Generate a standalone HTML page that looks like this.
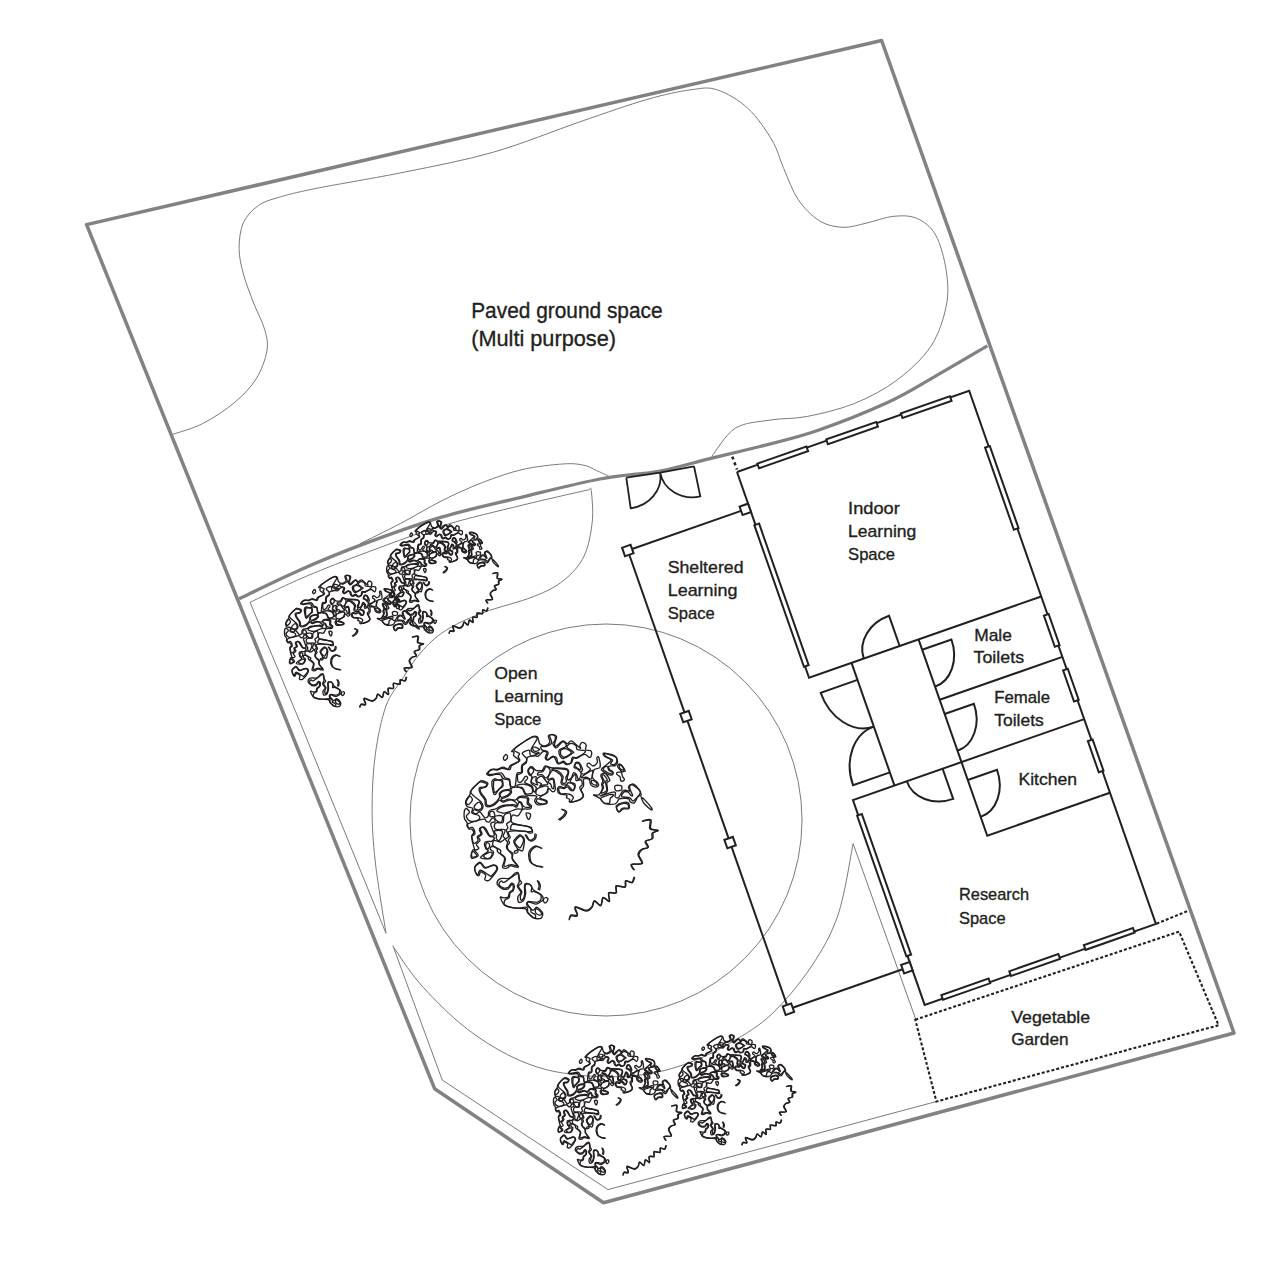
<!DOCTYPE html><html><head><meta charset="utf-8"><style>html,body{margin:0;padding:0;background:#fff;}svg{display:block;}text{font-family:"Liberation Sans",sans-serif;fill:#231f20;stroke:#231f20;stroke-width:0.35px;}</style></head><body>
<svg width="1276" height="1264" viewBox="0 0 1276 1264">
<path d="M172.8,434.3 C177.8,432.5 192.4,428.9 202.7,423.6 C213.0,418.3 225.9,409.8 234.8,402.3 C243.7,394.8 250.8,387.4 256.2,378.8 C261.5,370.2 265.5,359.2 266.9,351.0 C268.3,342.8 266.8,337.4 264.7,329.6 C262.6,321.8 257.6,313.3 254.0,304.0 C250.4,294.7 245.9,283.3 243.4,274.0 C240.9,264.7 239.1,256.9 239.1,248.4 C239.1,239.8 240.2,229.8 243.4,222.7 C246.6,215.6 252.2,209.9 258.3,205.6 C264.4,201.3 269.8,200.0 279.7,197.1 C289.6,194.2 296.8,192.3 317.8,188.1 C338.8,183.9 376.2,177.9 405.5,171.9 C434.8,165.9 464.0,160.6 493.3,152.2 C522.6,143.8 555.5,130.2 581.1,121.4 C606.7,112.6 628.6,104.8 646.9,99.5 C665.2,94.2 679.1,91.4 690.8,89.8 C702.5,88.2 707.6,86.7 717.1,89.8 C726.6,92.9 738.8,99.9 747.9,108.3 C757.0,116.7 765.9,130.0 771.9,140.0 C777.9,150.0 779.4,158.6 783.7,168.5 C788.1,178.4 792.1,190.6 798.0,199.3 C803.9,208.0 811.8,216.0 819.3,220.7 C826.8,225.4 835.1,226.9 843.0,227.3 C850.9,227.7 858.5,224.8 866.8,223.0 C875.1,221.2 884.6,217.2 892.9,216.4 C901.2,215.6 909.5,215.2 916.6,218.3 C923.7,221.4 930.7,226.2 935.6,234.9 C940.5,243.6 944.4,258.6 946.2,270.5 C948.0,282.4 948.8,293.5 946.2,306.1 C943.6,318.8 938.9,334.1 930.8,346.4 C922.7,358.6 910.2,370.1 897.6,379.6 C885.0,389.1 869.9,397.2 854.9,403.3 C839.9,409.4 821.5,413.6 807.4,416.4 C793.3,419.2 782.5,418.0 770.5,420.0 C758.5,422.0 745.1,422.1 735.3,428.2 C725.5,434.3 715.7,451.7 711.8,456.4" fill="none" stroke="#7a7b7e" stroke-width="1"/>
<path d="M360.0,543.7 C366.8,540.3 387.1,530.5 400.7,523.4 C414.3,516.3 427.9,507.7 441.5,500.9 C455.1,494.1 468.6,487.9 482.2,482.6 C495.8,477.4 509.4,472.5 523.0,469.4 C536.6,466.3 553.5,464.6 563.7,463.9 C573.9,463.2 578.7,464.2 584.1,465.3 C589.5,466.4 592.2,468.6 596.3,470.4 C600.4,472.2 606.5,475.2 608.6,476.1" fill="none" stroke="#7a7b7e" stroke-width="1"/>
<path d="M386.0,933.3 C384.2,921.4 377.6,882.9 375.3,862.0 C373.0,841.1 372.1,826.1 372.1,808.2 C372.1,790.3 373.0,771.4 375.3,754.4 C377.6,737.4 381.5,718.5 386.0,706.0 C390.5,693.5 396.4,688.2 402.2,679.2 C408.0,670.2 413.8,660.4 421.0,652.3 C428.2,644.2 435.0,637.3 445.2,630.8 C455.4,624.2 467.5,618.7 482.2,613.0 C496.9,607.3 519.6,602.1 533.2,596.7 C546.8,591.3 555.2,587.2 563.7,580.4 C572.2,573.6 579.3,565.9 584.1,556.0 C588.9,546.1 591.1,532.2 592.3,521.3 C593.5,510.4 591.8,496.0 591.3,490.7 C590.8,485.4 589.6,489.9 589.2,489.7" fill="none" stroke="#7a7b7e" stroke-width="1"/>
<path d="M589.2,489.7 C578.2,492.2 547.6,498.9 523.0,505.0 C498.4,511.1 468.7,517.7 441.5,526.0 C414.3,534.3 383.6,546.2 360.0,555.0 C336.4,563.8 318.3,571.1 300.0,579.0 C281.7,586.9 258.3,598.4 250.0,602.3" fill="none" stroke="#7a7b7e" stroke-width="1"/>
<path d="M250,602.3 L300,722.2 L386,933.3" fill="none" stroke="#7a7b7e" stroke-width="1"/>
<path d="M392.8,945.4 L442.2,1080 L608,1189.6 L936.4,1101.5" fill="none" stroke="#7a7b7e" stroke-width="1"/>
<path d="M393.7,947.4 C397.9,953.3 408.4,970.3 419.2,982.7 C430.0,995.1 445.3,1010.8 458.4,1021.9 C471.5,1033.0 484.6,1041.8 497.6,1049.3 C510.7,1056.8 523.7,1062.7 536.7,1066.9 C549.8,1071.2 562.8,1073.2 575.9,1074.8 C589.0,1076.4 602.0,1077.0 615.1,1076.7 C628.2,1076.4 641.2,1075.4 654.3,1072.8 C667.4,1070.2 680.4,1066.3 693.5,1061.1 C706.6,1055.9 719.7,1049.3 732.7,1041.5 C745.8,1033.7 758.8,1026.4 771.8,1014.0 C784.8,1001.6 800.0,983.5 811.0,967.0 C822.0,950.5 831.0,935.6 838.0,915.0 C845.0,894.4 850.6,855.5 853.1,843.6" fill="none" stroke="#7a7b7e" stroke-width="1"/>
<path d="M853.1,843.6 L915.7,1019.2" fill="none" stroke="#7a7b7e" stroke-width="1"/>
<circle cx="606" cy="820" r="196" fill="none" stroke="#7a7b7e" stroke-width="1"/>
<path d="M86.6,224.6 L881.6,40.5 L1234,1033 L603.5,1202.8 L434.6,1088.7 Z" fill="none" stroke="#808285" stroke-width="3.5" stroke-linejoin="round"/>
<path d="M239.2,598.7 C249.3,593.9 279.9,578.9 300.0,570.0 C320.1,561.1 336.4,554.2 360.0,545.4 C383.6,536.6 414.3,525.3 441.5,517.2 C468.7,509.1 496.6,503.3 523.0,496.9 C549.4,490.5 577.2,483.3 600.0,479.0 C622.8,474.7 641.8,474.4 660.0,471.0 C678.2,467.6 692.3,462.9 709.0,458.8 C725.7,454.7 741.9,451.2 760.0,446.5 C778.1,441.8 796.2,437.9 817.6,430.5 C839.0,423.1 868.5,411.3 888.1,402.3 C907.7,393.3 918.6,385.8 935.1,376.4 C951.6,367.0 978.6,351.0 987.3,345.9" fill="none" stroke="#808285" stroke-width="3.3"/>
<path d="M915.3,1019.7 L1179.1,931.6 L1218.6,1025.3 L936.4,1101.5 Z M1156.5,923.7 L1187.6,911" fill="none" stroke="#231f20" stroke-width="2.1" stroke-dasharray="3,2"/>
<g transform="translate(627.8,550.5) rotate(-19.30)" fill="none" stroke="#231f20" stroke-width="2">
<path d="M0,0 L120,0"/>
<path d="M0,4.5 L0,172"/>
<path d="M0,180 L0,305"/>
<path d="M0,314 L0,482"/>
<path d="M4.5,486 L121,486"/>
<path d="M129,-38 L375,-38 L375,527 L130,527 L130,310 L375,310"/>
<path d="M129,-38 L129,180 L375,180"/>
<path d="M174,180 L174,310"/>
<path d="M245,180 L245,388 L365,388 L365,388"/>
<path d="M245,244 L375,244"/>
<path d="M365,388 L375,388"/>
<rect x="-4.5" y="-4.5" width="9" height="9" fill="#fff"/>
<rect x="120.0" y="-4.5" width="9" height="9" fill="#fff"/>
<rect x="-4.5" y="171.5" width="9" height="9" fill="#fff"/>
<rect x="-4.5" y="305.0" width="9" height="9" fill="#fff"/>
<rect x="-4.5" y="481.5" width="9" height="9" fill="#fff"/>
<rect x="121.0" y="481.5" width="9" height="9" fill="#fff"/>
<rect x="151.0" y="-39.2" width="52.0" height="5" fill="#fff"/>
<rect x="224.0" y="-39.2" width="53.0" height="5" fill="#fff"/>
<rect x="303.0" y="-39.2" width="52.0" height="5" fill="#fff"/>
<rect x="149.0" y="523.2" width="50.0" height="5" fill="#fff"/>
<rect x="221.0" y="523.2" width="52.0" height="5" fill="#fff"/>
<rect x="300.0" y="523.2" width="52.0" height="5" fill="#fff"/>
<rect x="371.2" y="21.0" width="5" height="87.0" fill="#fff"/>
<rect x="371.2" y="199.0" width="5" height="33.0" fill="#fff"/>
<rect x="371.2" y="257.0" width="5" height="33.0" fill="#fff"/>
<rect x="371.2" y="332.0" width="5" height="33.0" fill="#fff"/>
<rect x="127.8" y="18.0" width="5" height="150.0" fill="#fff"/>
<rect x="128.8" y="326.0" width="5" height="149.0" fill="#fff"/>
<path d="M225.0,180.0 L225.0,148.0 A38.0,32.0 0 0 0 187.0,180.0"/>
<path d="M245.0,191.0 L276.0,191.0 A31.0,39.0 0 0 1 245.0,230.0"/>
<path d="M245.0,259.0 L276.0,259.0 A31.0,39.0 0 0 1 245.0,298.0"/>
<path d="M174.0,198.0 L135.0,198.0 A39.0,49.5 0 0 0 174.0,247.5"/>
<path d="M174.0,296.0 L135.0,296.0 A39.0,48.5 0 0 1 174.0,247.5"/>
<path d="M225.0,310.0 L225.0,342.0 A38.0,32.0 0 0 1 187.0,310.0"/>
<path d="M245.0,329.0 L276.0,329.0 A31.0,39.0 0 0 1 245.0,368.0"/>
</g>
<path d="M626.3,477.6 L630.7,508.3 A33.9,30.8 -8 0 0 660.2,472.6 M694,466.3 L700.3,496.4 A33.8,30.6 -10 0 1 660.2,472.6 M626.3,477.6 L660.2,472.6 L694,466.3" fill="none" stroke="#231f20" stroke-width="1.8"/>
<path d="M732.3,456.6 L737,469.5" stroke="#231f20" stroke-width="2.6" stroke-dasharray="3,3.2" fill="none"/>
<defs><g id="tree" fill="none"><path d="M52 -337C56 -338 61 -340 64 -345C67 -351 66 -366 71 -370C76 -374 83 -366 94 -370C104 -375 129 -391 134 -397C139 -403 131 -404 124 -406C117 -408 100 -406 94 -410C88 -414 94 -424 89 -430C83 -435 69 -443 61 -441C54 -440 42 -429 44 -422C45 -415 67 -405 72 -400C77 -395 81 -398 73 -392C65 -386 37 -366 26 -364C16 -361 13 -371 9 -377C6 -383 3 -394 3 -400C3 -405 5 -408 11 -412C16 -416 34 -420 38 -425C42 -430 39 -438 36 -442C33 -446 28 -453 21 -449C15 -446 2 -427 -4 -422C-10 -417 -10 -417 -14 -420C-18 -423 -26 -434 -27 -440C-27 -445 -19 -448 -17 -455C-15 -461 -13 -472 -15 -477C-16 -482 -22 -484 -26 -485C-31 -486 -42 -489 -43 -482C-44 -476 -30 -454 -33 -445C-36 -435 -50 -429 -59 -426C-68 -422 -82 -428 -85 -425C-89 -422 -85 -412 -79 -407C-73 -403 -54 -404 -51 -397C-47 -390 -59 -371 -59 -364C-59 -358 -53 -358 -49 -360C-44 -362 -36 -372 -31 -374C-26 -377 -23 -376 -19 -374C-15 -373 -12 -373 -8 -367C-5 -361 -5 -343 1 -341C7 -338 20 -351 26 -351C33 -350 37 -340 41 -337C46 -335 48 -336 52 -337"/><path d="M-224 -219C-219 -220 -217 -215 -213 -227C-210 -238 -210 -276 -205 -287C-200 -298 -188 -286 -184 -293C-180 -300 -185 -320 -181 -329C-176 -339 -163 -342 -159 -349C-156 -355 -156 -361 -159 -367C-162 -373 -176 -382 -178 -387C-180 -392 -178 -394 -173 -397C-167 -400 -150 -409 -144 -406C-138 -402 -144 -380 -137 -377C-129 -374 -104 -387 -97 -390C-91 -392 -96 -394 -99 -395C-102 -395 -108 -389 -114 -391C-120 -394 -137 -398 -135 -410C-134 -421 -111 -449 -107 -460C-102 -470 -104 -471 -109 -473C-114 -475 -119 -480 -137 -470C-156 -460 -209 -425 -218 -412C-227 -399 -196 -396 -193 -390C-190 -383 -199 -381 -199 -375C-199 -368 -187 -360 -192 -352C-198 -344 -223 -334 -232 -327C-240 -319 -234 -309 -242 -307C-249 -305 -267 -314 -277 -314C-287 -314 -293 -307 -302 -305C-310 -304 -319 -310 -327 -307C-335 -304 -347 -294 -349 -289C-351 -285 -348 -282 -337 -282C-326 -282 -296 -292 -284 -290C-272 -287 -272 -272 -265 -267C-258 -261 -246 -264 -242 -257C-237 -250 -242 -230 -239 -224C-236 -218 -228 -219 -224 -219"/><path d="M280 -334C285 -337 292 -348 292 -354C293 -361 293 -369 282 -375C272 -380 237 -390 229 -390C222 -390 230 -380 237 -375C243 -369 266 -363 270 -357C274 -351 259 -341 261 -337C263 -333 274 -332 280 -334"/><path d="M111 -307C115 -309 109 -329 106 -334C103 -340 95 -341 91 -340C88 -338 81 -330 84 -324C87 -319 108 -305 111 -307"/><path d="M327 -304C329 -306 322 -320 318 -324C315 -329 306 -332 304 -330C303 -328 304 -316 308 -312C311 -308 325 -302 327 -304"/><path d="M265 -284C272 -283 270 -291 268 -294C265 -298 256 -300 252 -304C248 -309 248 -321 244 -323C240 -325 230 -320 228 -317C225 -314 221 -310 227 -304C233 -299 258 -286 265 -284"/><path d="M-57 -267C-53 -270 -47 -277 -44 -283C-41 -289 -40 -299 -40 -304C-41 -310 -45 -314 -48 -317C-52 -320 -57 -325 -61 -322C-66 -318 -70 -303 -76 -298C-83 -293 -94 -295 -98 -292C-103 -289 -105 -281 -102 -279C-99 -278 -87 -284 -81 -281C-75 -279 -70 -269 -66 -266C-62 -264 -61 -264 -57 -267"/><path d="M-131 -284C-128 -287 -121 -299 -122 -304C-123 -310 -132 -318 -137 -318C-141 -317 -147 -307 -148 -302C-149 -297 -144 -289 -142 -286C-139 -283 -135 -281 -131 -284"/><path d="M32 -237C36 -237 40 -242 41 -247C42 -252 37 -260 38 -267C40 -274 48 -283 49 -289C50 -295 49 -299 46 -302C44 -306 46 -308 34 -309C22 -311 -18 -313 -27 -312C-37 -311 -29 -306 -24 -304C-19 -302 -7 -304 1 -299C9 -294 21 -281 24 -272C27 -263 18 -250 19 -244C21 -238 28 -236 32 -237"/><path d="M164 -259C170 -263 171 -282 172 -289C172 -297 178 -306 169 -303C160 -300 127 -278 119 -272C111 -265 118 -266 122 -265C125 -265 132 -269 139 -268C146 -267 159 -256 164 -259"/><path d="M72 -142C79 -143 96 -148 104 -152C111 -155 116 -160 120 -164C123 -168 126 -168 124 -177C122 -185 108 -205 107 -214C106 -223 118 -223 119 -229C121 -235 118 -246 116 -251C115 -255 116 -255 111 -255C107 -256 93 -248 89 -251C85 -255 90 -269 88 -274C87 -279 86 -287 81 -282C77 -278 63 -256 60 -249C57 -242 60 -244 64 -241C68 -238 82 -238 84 -232C87 -226 82 -209 79 -204C76 -198 69 -197 64 -200C58 -202 52 -216 46 -218C41 -220 35 -211 29 -210C23 -209 13 -214 9 -213C4 -212 1 -209 2 -204C3 -199 5 -188 13 -184C21 -181 41 -186 51 -182C62 -179 74 -171 75 -164C77 -157 63 -145 62 -142C62 -138 66 -140 72 -142"/><path d="M224 -189C229 -191 240 -192 242 -202C244 -211 235 -235 235 -244C236 -253 246 -248 244 -254C243 -260 231 -277 227 -280C222 -284 217 -280 218 -274C218 -269 228 -254 229 -247C230 -240 222 -237 221 -232C220 -226 227 -221 225 -214C224 -207 213 -193 213 -189C213 -185 220 -187 224 -189"/><path d="M-103 -229C-100 -230 -110 -243 -111 -249C-112 -256 -108 -266 -109 -269C-111 -273 -118 -271 -122 -269C-125 -267 -130 -261 -132 -257C-134 -252 -137 -246 -132 -242C-127 -237 -107 -228 -103 -229"/><path d="M-22 -212C-21 -218 -21 -242 -23 -249C-24 -257 -29 -258 -34 -257C-38 -257 -50 -249 -50 -244C-51 -240 -40 -237 -37 -232C-34 -227 -34 -218 -31 -214C-29 -211 -24 -206 -22 -212"/><path d="M-311 -192C-304 -196 -284 -215 -279 -225C-275 -234 -278 -245 -284 -250C-290 -254 -308 -253 -314 -252C-321 -251 -320 -253 -321 -244C-322 -235 -322 -208 -320 -199C-318 -190 -317 -187 -311 -192"/><path d="M189 -227C193 -226 193 -229 193 -232C193 -234 193 -238 189 -242C185 -245 170 -254 167 -253C163 -252 165 -239 169 -235C173 -230 185 -227 189 -227"/><path d="M-358 -61C-355 -63 -350 -64 -348 -69C-346 -73 -348 -84 -346 -89C-344 -94 -342 -98 -337 -100C-332 -103 -324 -100 -314 -104C-305 -107 -297 -117 -282 -121C-267 -125 -236 -127 -224 -128C-212 -128 -212 -122 -209 -123C-206 -124 -201 -129 -206 -134C-210 -139 -223 -151 -234 -152C-246 -153 -265 -141 -274 -140C-284 -140 -284 -153 -292 -150C-300 -147 -311 -129 -322 -124C-333 -119 -352 -114 -359 -119C-367 -124 -361 -141 -365 -152C-370 -162 -382 -175 -387 -184C-392 -194 -394 -204 -394 -209C-394 -215 -392 -215 -387 -216C-382 -218 -370 -216 -365 -219C-359 -222 -352 -230 -356 -234C-360 -238 -378 -245 -387 -244C-396 -243 -400 -238 -408 -229C-416 -220 -438 -204 -434 -189C-430 -175 -394 -154 -384 -142C-374 -129 -373 -124 -374 -116C-375 -109 -382 -97 -390 -95C-397 -92 -411 -103 -417 -102C-423 -101 -426 -93 -425 -89C-423 -85 -413 -80 -407 -81C-401 -81 -396 -93 -390 -90C-383 -87 -372 -67 -367 -62C-362 -57 -361 -60 -358 -61"/><path d="M-136 -184C-130 -185 -130 -186 -129 -189C-128 -192 -126 -199 -128 -204C-129 -210 -130 -217 -137 -221C-143 -226 -155 -231 -167 -232C-178 -233 -198 -229 -204 -227C-209 -224 -204 -221 -199 -218C-195 -216 -183 -218 -177 -213C-170 -207 -168 -189 -162 -184C-155 -179 -141 -183 -136 -184"/><path d="M377 -149C384 -155 405 -177 408 -187C412 -196 406 -199 400 -206C393 -213 375 -227 367 -229C360 -231 354 -225 355 -217C355 -208 368 -183 370 -176C371 -169 365 -172 362 -175C359 -177 354 -187 349 -191C345 -194 341 -195 337 -195C333 -195 328 -194 324 -189C321 -185 311 -174 316 -169C321 -165 346 -166 354 -163C363 -160 363 -153 367 -150C371 -148 370 -143 377 -149"/><path d="M-83 -174C-76 -177 -63 -182 -58 -189C-53 -196 -51 -209 -50 -214C-49 -220 -51 -220 -54 -221C-57 -222 -61 -225 -69 -223C-77 -221 -97 -215 -104 -209C-111 -202 -112 -190 -111 -184C-109 -178 -101 -176 -96 -175C-92 -173 -89 -172 -83 -174"/><path d="M-271 -167C-263 -169 -249 -176 -244 -182C-238 -187 -236 -195 -239 -198C-243 -201 -256 -201 -264 -199C-272 -198 -283 -192 -286 -187C-290 -182 -289 -172 -287 -169C-284 -165 -278 -164 -271 -167"/><path d="M248 -134C252 -134 254 -132 256 -137C258 -141 257 -154 259 -160C262 -165 270 -167 272 -171C274 -174 278 -180 272 -180C266 -180 247 -177 237 -173C227 -170 212 -165 211 -159C210 -153 223 -140 229 -136C235 -132 243 -134 248 -134"/><path d="M-445 -129C-440 -132 -428 -145 -427 -152C-426 -158 -435 -172 -440 -171C-445 -169 -455 -150 -458 -144C-461 -138 -459 -136 -457 -134C-455 -131 -450 -126 -445 -129"/><path d="M-142 -114C-137 -115 -139 -119 -141 -122C-143 -124 -152 -126 -154 -132C-156 -137 -152 -149 -153 -154C-153 -159 -152 -160 -158 -162C-164 -163 -180 -166 -187 -165C-194 -165 -197 -162 -200 -159C-202 -156 -204 -151 -202 -148C-199 -145 -189 -144 -184 -139C-179 -134 -179 -122 -172 -118C-165 -114 -147 -113 -142 -114"/><path d="M-88 -132C-81 -130 -69 -131 -64 -134C-59 -136 -54 -140 -60 -144C-66 -148 -91 -155 -99 -157C-107 -159 -105 -157 -106 -154C-108 -152 -109 -144 -106 -140C-103 -136 -95 -133 -88 -132"/><path d="M306 -94C309 -96 312 -106 319 -109C326 -112 344 -108 348 -111C353 -115 350 -125 346 -129C342 -133 334 -136 324 -134C315 -132 296 -123 292 -117C287 -110 295 -99 297 -95C299 -91 302 -92 306 -94"/><path d="M-209 187C-204 187 -203 187 -206 182C-209 176 -224 161 -228 152C-232 142 -227 135 -231 127C-236 118 -249 108 -254 101C-258 95 -258 92 -257 86C-257 81 -251 73 -252 66C-253 60 -263 54 -262 49C-262 44 -248 44 -247 36C-247 29 -257 11 -257 4C-258 -4 -251 -3 -250 -9C-250 -14 -259 -23 -256 -29C-254 -35 -241 -38 -237 -44C-234 -49 -234 -54 -235 -61C-236 -68 -236 -84 -242 -85C-247 -87 -264 -80 -269 -72C-275 -64 -268 -43 -275 -36C-282 -30 -302 -38 -309 -34C-317 -31 -318 -19 -318 -14C-317 -8 -316 -3 -307 -0C-298 3 -270 -4 -265 1C-259 7 -274 26 -274 34C-274 41 -263 41 -265 46C-268 51 -278 62 -287 64C-295 65 -310 55 -317 56C-324 58 -326 69 -327 74C-327 79 -326 81 -320 86C-313 92 -292 100 -287 106C-281 111 -291 115 -287 122C-283 128 -266 136 -263 147C-260 158 -274 182 -269 188C-265 193 -244 180 -234 180C-224 180 -213 186 -209 187"/><path d="M-412 69C-408 67 -401 62 -399 56C-397 51 -404 41 -402 36C-400 30 -386 30 -385 24C-383 18 -392 7 -392 1C-392 -5 -389 -10 -384 -11C-379 -13 -369 -13 -362 -6C-355 0 -349 23 -342 29C-335 35 -319 38 -318 29C-317 19 -336 -17 -336 -29C-335 -40 -317 -35 -314 -40C-312 -44 -317 -54 -319 -57C-322 -60 -328 -59 -331 -56C-335 -53 -338 -42 -342 -40C-346 -37 -352 -38 -357 -41C-362 -43 -357 -56 -372 -53C-387 -51 -438 -35 -450 -28C-462 -20 -448 -11 -445 -8C-441 -5 -433 -12 -430 -12C-426 -12 -425 -12 -422 -6C-419 -1 -413 15 -414 21C-415 28 -426 30 -429 34C-431 37 -431 36 -429 41C-428 47 -425 64 -422 69C-419 73 -416 71 -412 69"/><path d="M-136 11C-121 9 -132 -4 -139 -9C-146 -14 -162 -17 -177 -20C-191 -22 -217 -28 -227 -26C-237 -24 -236 -13 -236 -9C-236 -4 -246 -1 -229 2C-213 5 -151 13 -136 11"/><path d="M-187 91C-183 86 -172 63 -172 54C-172 44 -182 32 -189 34C-196 36 -214 55 -216 64C-217 73 -204 84 -199 89C-194 94 -192 97 -187 91"/><path d="M-348 99C-345 96 -341 84 -341 79C-341 74 -347 69 -349 68C-352 67 -356 69 -358 71C-359 74 -361 77 -361 81C-361 85 -359 93 -357 96C-355 99 -351 102 -348 99"/><path d="M-411 139C-407 137 -404 133 -407 129C-410 125 -423 111 -427 113C-431 115 -432 136 -430 140C-427 144 -414 141 -411 139"/><path d="M-341 147C-337 144 -331 137 -330 132C-328 126 -327 117 -332 116C-337 115 -353 121 -359 125C-366 128 -371 133 -371 137C-370 140 -362 146 -357 148C-352 150 -346 149 -341 147"/><path d="M-331 237C-325 231 -309 213 -306 204C-303 196 -308 189 -312 186C-316 183 -323 184 -332 186C-341 188 -356 200 -365 198C-373 197 -377 181 -382 177C-387 173 -387 170 -392 173C-397 176 -412 187 -415 195C-418 202 -413 213 -411 219C-408 226 -403 235 -400 233C-396 232 -397 208 -387 209C-377 210 -349 233 -339 238C-330 242 -336 242 -331 237"/><path d="M-113 452C-111 450 -112 439 -116 435C-119 430 -130 430 -134 425C-138 420 -134 410 -138 405C-141 399 -151 396 -154 392C-157 387 -157 381 -156 377C-154 373 -154 369 -147 369C-139 368 -118 374 -109 374C-100 373 -95 368 -91 365C-88 362 -86 362 -86 357C-85 352 -82 341 -88 334C-93 328 -111 321 -119 318C-127 315 -132 323 -134 319C-136 314 -129 298 -132 292C-136 285 -148 279 -154 279C-159 279 -163 284 -165 292C-166 300 -161 315 -162 327C-163 339 -168 355 -171 362C-174 369 -177 370 -182 372C-186 373 -194 377 -197 372C-200 367 -202 353 -200 344C-198 336 -185 331 -185 322C-186 313 -201 301 -203 292C-204 283 -194 278 -194 267C-194 256 -191 226 -203 227C-215 227 -254 264 -267 270C-280 276 -278 264 -282 264C-286 265 -290 269 -292 272C-294 275 -297 280 -294 284C-291 289 -279 298 -272 300C-264 302 -256 301 -249 297C-243 293 -237 277 -232 275C-227 274 -220 281 -219 287C-217 293 -220 305 -223 312C-227 319 -236 321 -240 327C-243 333 -240 344 -244 349C-248 355 -261 356 -265 362C-268 368 -274 381 -264 387C-255 394 -225 401 -207 403C-189 405 -166 395 -157 399C-147 403 -156 416 -151 425C-146 433 -132 445 -126 450C-119 454 -115 455 -113 452"/><path d="M-85 437C-84 435 -81 430 -85 425C-89 420 -104 408 -109 406C-114 405 -114 413 -114 417C-114 421 -113 426 -110 430C-107 433 -98 438 -94 439C-90 440 -87 440 -85 437"/><path d="M-253 197C-246 195 -244 186 -237 185C-230 185 -218 192 -212 192C-205 193 -196 196 -199 189C-201 182 -222 163 -227 152C-231 140 -223 129 -227 122C-230 114 -241 114 -245 109C-250 104 -251 99 -253 94C-254 89 -254 86 -252 81C-250 77 -243 73 -242 69C-241 64 -248 59 -248 54C-247 49 -240 46 -239 39C-239 32 -257 15 -244 10C-232 5 -181 8 -164 9C-147 11 -150 17 -144 18C-138 19 -130 20 -129 16C-127 13 -130 1 -133 -4C-135 -9 -126 -9 -142 -14C-157 -19 -214 -24 -228 -34C-243 -44 -232 -68 -227 -74C-222 -80 -208 -66 -199 -71C-191 -75 -186 -98 -177 -103C-167 -109 -149 -102 -142 -105C-134 -108 -132 -116 -133 -122C-134 -127 -146 -130 -148 -137C-150 -143 -145 -153 -147 -159C-149 -165 -154 -169 -162 -170C-169 -172 -185 -171 -194 -168C-203 -165 -205 -153 -214 -151C-223 -149 -237 -157 -247 -156C-257 -155 -268 -146 -274 -146C-280 -146 -286 -153 -283 -157C-279 -160 -263 -163 -254 -168C-246 -173 -236 -182 -233 -189C-230 -196 -238 -205 -234 -209C-231 -214 -221 -217 -212 -217C-203 -217 -187 -216 -179 -209C-171 -203 -173 -184 -162 -178C-150 -172 -116 -176 -109 -172C-101 -167 -118 -156 -117 -149C-116 -142 -113 -131 -104 -128C-95 -125 -69 -130 -61 -132C-53 -134 -56 -136 -55 -139C-55 -142 -53 -144 -59 -148C-65 -152 -93 -157 -92 -164C-91 -171 -60 -183 -54 -189C-47 -195 -54 -198 -52 -202C-50 -205 -48 -210 -44 -209C-40 -208 -34 -195 -29 -194C-24 -193 -16 -194 -15 -204C-13 -214 -19 -246 -21 -256C-24 -266 -27 -263 -31 -263C-35 -263 -43 -258 -46 -258C-50 -258 -55 -255 -52 -262C-50 -269 -39 -295 -31 -301C-23 -306 -13 -300 -5 -294C3 -289 14 -278 18 -269C21 -261 14 -251 14 -244C14 -238 14 -233 19 -230C23 -228 36 -229 41 -230C47 -232 45 -240 51 -240C58 -239 75 -232 80 -227C84 -222 80 -213 79 -209C77 -205 74 -199 69 -202C64 -206 53 -226 46 -228C40 -230 35 -215 29 -214C23 -213 14 -222 9 -221C3 -219 -4 -211 -4 -204C-4 -198 1 -187 9 -182C16 -178 37 -180 42 -177C48 -174 39 -168 41 -164C44 -160 54 -158 57 -154C59 -150 50 -140 59 -140C68 -140 101 -148 112 -154C123 -160 125 -166 126 -174C126 -182 114 -196 114 -204C114 -213 124 -215 126 -224C128 -233 124 -251 126 -257C128 -263 134 -261 139 -261C144 -261 150 -262 154 -257C158 -251 158 -236 163 -229C168 -223 180 -218 187 -217C193 -217 200 -223 201 -227C202 -231 200 -235 195 -242C190 -248 173 -256 170 -267C168 -278 173 -298 179 -307C185 -316 204 -309 208 -319C211 -330 204 -363 202 -370C199 -378 193 -371 192 -367C191 -363 197 -353 195 -347C194 -341 186 -332 182 -329C177 -326 174 -326 169 -328C165 -330 158 -338 154 -340C150 -341 147 -339 145 -337C144 -334 142 -329 144 -325C147 -320 162 -316 160 -309C158 -303 142 -290 134 -286C126 -283 117 -286 114 -289C112 -293 122 -301 121 -309C120 -318 111 -333 107 -339C103 -345 100 -345 96 -345C93 -346 89 -345 86 -341C84 -337 78 -324 79 -319C80 -314 88 -317 94 -312C100 -307 112 -297 114 -289C116 -281 110 -269 108 -264C105 -259 102 -256 99 -258C96 -261 95 -276 91 -282C87 -287 81 -294 76 -291C72 -288 70 -270 65 -264C60 -258 52 -254 49 -254C46 -255 45 -260 45 -267C46 -274 54 -289 52 -297C51 -304 51 -309 36 -313C22 -316 -20 -315 -36 -317C-53 -319 -57 -328 -64 -326C-71 -324 -75 -308 -78 -304C-82 -300 -81 -302 -86 -302C-92 -302 -104 -300 -111 -303C-119 -306 -124 -318 -129 -321C-134 -324 -135 -324 -139 -321C-143 -317 -151 -309 -151 -302C-152 -295 -147 -285 -144 -280C-141 -275 -133 -279 -131 -272C-129 -265 -138 -248 -135 -239C-131 -230 -113 -224 -110 -217C-107 -209 -114 -197 -116 -194C-119 -191 -121 -192 -123 -197C-125 -201 -123 -214 -130 -222C-137 -229 -162 -235 -166 -242C-170 -248 -156 -255 -154 -259C-152 -264 -152 -268 -154 -270C-156 -272 -159 -276 -164 -272C-169 -267 -176 -250 -182 -246C-187 -241 -195 -239 -199 -244C-202 -249 -203 -268 -203 -274C-203 -281 -204 -279 -200 -282C-196 -285 -183 -284 -179 -292C-175 -299 -181 -319 -177 -327C-174 -335 -163 -335 -159 -342C-154 -349 -159 -364 -152 -370C-145 -376 -125 -377 -116 -378C-108 -379 -106 -372 -99 -376C-92 -379 -84 -396 -76 -399C-69 -402 -58 -399 -56 -395C-54 -390 -64 -375 -64 -370C-65 -364 -63 -362 -60 -359C-58 -357 -54 -355 -49 -357C-44 -358 -36 -368 -31 -370C-26 -372 -23 -375 -19 -371C-15 -366 -10 -348 -6 -342C-2 -336 -1 -336 4 -336C9 -336 18 -344 24 -344C30 -343 36 -335 41 -333C47 -332 52 -334 56 -336C61 -338 64 -339 67 -344C70 -350 72 -363 76 -366C81 -370 86 -363 94 -366C101 -368 114 -380 122 -383C129 -386 131 -386 137 -384C142 -382 152 -369 157 -369C161 -369 165 -379 166 -385C167 -390 167 -400 162 -404C157 -408 140 -404 137 -409C133 -414 141 -426 139 -432C138 -438 133 -442 129 -444C125 -446 119 -447 116 -445C112 -442 109 -434 108 -430C106 -425 116 -413 109 -417C102 -421 77 -450 66 -454C56 -458 53 -440 46 -440C39 -440 33 -456 24 -454C14 -452 -4 -430 -11 -427C-18 -424 -19 -429 -18 -437C-18 -445 -8 -467 -8 -475C-9 -483 -15 -483 -20 -485C-24 -487 -29 -488 -34 -487C-39 -486 -48 -486 -49 -480C-50 -473 -39 -456 -42 -447C-45 -439 -58 -431 -66 -429C-75 -428 -85 -432 -92 -440C-98 -447 -97 -469 -104 -475C-111 -480 -113 -484 -134 -473C-155 -462 -213 -420 -227 -407C-241 -394 -221 -402 -220 -397C-219 -392 -225 -383 -221 -377C-217 -371 -201 -365 -198 -359C-194 -354 -194 -352 -200 -347C-207 -342 -229 -335 -237 -329C-245 -323 -243 -312 -249 -310C-256 -308 -266 -320 -274 -320C-283 -320 -292 -310 -302 -309C-311 -307 -323 -311 -332 -308C-341 -305 -350 -294 -354 -289C-358 -285 -357 -284 -354 -282C-352 -280 -345 -276 -337 -276C-329 -277 -313 -283 -304 -284C-296 -284 -292 -284 -287 -281C-282 -277 -281 -265 -274 -261C-268 -257 -255 -258 -249 -256C-244 -253 -243 -254 -242 -247C-240 -239 -234 -216 -238 -209C-242 -202 -258 -207 -267 -203C-276 -200 -287 -194 -292 -187C-296 -180 -288 -171 -293 -162C-298 -152 -312 -137 -322 -131C-332 -125 -348 -121 -354 -125C-361 -129 -356 -144 -360 -154C-365 -164 -379 -178 -383 -187C-388 -196 -391 -203 -387 -208C-383 -213 -366 -213 -359 -218C-353 -222 -351 -230 -350 -234C-349 -238 -351 -239 -355 -242C-360 -244 -373 -249 -380 -250C-386 -250 -383 -252 -392 -244C-401 -236 -426 -210 -434 -199C-442 -188 -435 -187 -439 -179C-443 -171 -454 -160 -457 -152C-461 -143 -461 -135 -459 -129C-458 -123 -455 -119 -450 -116C-444 -113 -430 -114 -426 -109C-423 -104 -434 -90 -429 -84C-425 -78 -406 -78 -400 -74C-393 -69 -388 -64 -390 -59C-391 -54 -399 -46 -407 -43C-416 -41 -432 -40 -440 -44C-448 -48 -457 -61 -457 -69C-457 -76 -441 -83 -441 -89C-441 -95 -451 -104 -455 -107C-458 -110 -460 -107 -462 -105C-464 -103 -466 -102 -467 -94C-468 -86 -469 -66 -466 -56C-464 -47 -457 -44 -454 -36C-451 -28 -450 -15 -448 -9C-446 -3 -445 -3 -442 -2C-439 -1 -433 -5 -430 -2C-426 1 -420 10 -420 16C-420 23 -431 23 -431 36C-430 50 -421 87 -417 98C-414 110 -413 105 -410 105C-406 105 -395 101 -395 96C-394 92 -408 83 -407 76C-406 70 -390 63 -389 56C-387 50 -398 44 -397 39C-395 33 -380 30 -379 24C-377 17 -388 4 -388 -1C-389 -7 -385 -8 -382 -9C-379 -10 -376 -15 -370 -8C-363 -1 -352 24 -344 32C-337 40 -329 36 -324 38C-320 40 -316 43 -318 46C-319 50 -326 58 -332 61C-338 63 -346 59 -352 61C-358 62 -365 63 -366 69C-368 75 -364 89 -361 96C-359 104 -345 104 -349 111C-353 119 -386 137 -386 144C-386 151 -358 151 -349 151C-341 151 -337 150 -333 144C-328 138 -321 124 -322 116C-322 109 -337 107 -338 101C-339 96 -335 87 -329 86C-324 86 -309 94 -304 99C-300 104 -307 109 -300 116C-294 124 -271 134 -267 147C-263 159 -279 186 -277 194C-274 203 -259 198 -253 197"/><path d="M-106 -402C-110 -400 -114 -400 -116 -401C-119 -401 -122 -404 -124 -407C-126 -410 -127 -414 -127 -417C-126 -420 -127 -425 -122 -424C-116 -423 -95 -416 -93 -412C-90 -408 -103 -404 -106 -402"/><path d="M36 -372C29 -369 23 -372 19 -376C14 -379 11 -389 11 -395C10 -400 12 -405 16 -409C21 -412 28 -417 36 -415C44 -413 65 -402 65 -395C65 -387 44 -375 36 -372"/><path d="M266 -279C272 -280 275 -289 273 -294C271 -299 258 -304 255 -309C252 -314 247 -321 252 -324C257 -328 279 -324 286 -329C293 -335 296 -349 294 -357C293 -365 288 -374 277 -380C266 -386 234 -392 227 -391C219 -390 226 -380 232 -374C238 -368 265 -364 263 -354C261 -345 227 -323 219 -314C212 -306 214 -309 217 -304C221 -300 231 -292 239 -287C247 -283 260 -278 266 -279"/><path d="M-261 -357C-258 -359 -252 -365 -252 -370C-251 -374 -256 -385 -259 -385C-263 -385 -271 -374 -272 -370C-274 -365 -271 -358 -269 -356C-267 -354 -264 -355 -261 -357"/><path d="M324 -249C327 -251 330 -256 329 -259C328 -263 322 -266 320 -272C318 -278 314 -290 316 -294C319 -299 332 -294 333 -299C334 -304 325 -318 320 -324C316 -330 309 -336 304 -336C300 -335 294 -328 296 -322C297 -315 315 -302 315 -297C314 -292 298 -295 294 -293C290 -291 289 -288 291 -284C294 -280 304 -275 308 -269C311 -263 309 -252 312 -249C315 -246 321 -248 324 -249"/><path d="M284 -132C296 -136 296 -153 304 -157C313 -162 329 -160 337 -160C345 -160 348 -160 352 -157C355 -153 353 -145 358 -142C362 -138 373 -133 380 -138C386 -143 392 -164 397 -170C403 -176 410 -169 412 -173C414 -177 412 -187 407 -196C403 -205 391 -219 385 -226C378 -232 373 -234 367 -233C361 -232 352 -225 350 -219C348 -213 357 -200 355 -197C354 -194 345 -201 339 -201C334 -201 328 -203 321 -197C314 -190 306 -168 299 -163C293 -159 287 -164 283 -169C280 -174 292 -192 279 -193C267 -193 215 -171 209 -172C203 -172 238 -183 243 -194C249 -205 240 -230 242 -239C245 -249 258 -244 257 -252C256 -260 243 -280 237 -286C230 -292 223 -289 219 -287C215 -286 212 -283 212 -277C212 -270 221 -257 222 -249C222 -242 216 -238 216 -232C215 -225 222 -218 220 -209C218 -200 209 -183 202 -178C194 -172 176 -180 176 -177C177 -174 197 -168 207 -160C216 -153 219 -138 232 -133C245 -128 272 -127 284 -132"/><path d="M-86 -222C-89 -221 -92 -222 -91 -224C-91 -226 -81 -231 -83 -234C-85 -238 -99 -241 -103 -244C-107 -248 -107 -251 -107 -254C-106 -258 -105 -261 -101 -264C-98 -267 -90 -274 -84 -274C-78 -273 -73 -266 -68 -259C-63 -252 -50 -237 -52 -232C-54 -227 -73 -230 -79 -228C-85 -226 -84 -222 -86 -222"/><path d="M-314 -179C-308 -181 -298 -203 -292 -210C-285 -217 -277 -214 -275 -222C-273 -229 -276 -251 -279 -256C-283 -261 -291 -253 -297 -253C-303 -254 -311 -261 -317 -260C-322 -258 -329 -255 -330 -244C-331 -234 -327 -207 -324 -196C-322 -185 -319 -177 -314 -179"/><path d="M313 -202C318 -204 317 -213 317 -217C317 -221 318 -224 312 -225C306 -227 287 -228 283 -224C278 -220 282 -204 287 -200C292 -196 308 -199 313 -202"/><path d="M463 -101C469 -99 470 -104 462 -115C454 -125 424 -159 417 -164C410 -170 416 -155 419 -149C421 -143 422 -139 430 -131C437 -123 458 -104 463 -101"/><path d="M-395 -101C-400 -100 -410 -104 -413 -106C-417 -109 -419 -110 -418 -114C-418 -118 -415 -125 -410 -129C-406 -133 -397 -142 -392 -140C-387 -138 -379 -123 -379 -116C-380 -110 -389 -103 -395 -101"/><path d="M-257 -86C-269 -83 -271 -83 -279 -85C-287 -87 -305 -91 -305 -96C-305 -102 -292 -112 -279 -116C-266 -121 -239 -123 -227 -122C-215 -122 -212 -112 -207 -115C-202 -117 -200 -134 -197 -137C-193 -140 -188 -139 -185 -134C-182 -129 -176 -111 -179 -106C-183 -101 -194 -108 -207 -105C-220 -101 -245 -89 -257 -86"/><path d="M304 -89C309 -90 314 -102 322 -105C330 -108 347 -103 352 -108C357 -113 354 -130 349 -136C344 -141 332 -141 322 -138C312 -136 294 -127 289 -121C285 -114 292 -103 294 -98C297 -92 299 -88 304 -89"/><path d="M-322 -66C-326 -66 -335 -63 -338 -66C-341 -69 -341 -79 -341 -84C-340 -88 -338 -92 -334 -93C-331 -95 -324 -96 -321 -91C-318 -87 -315 -73 -315 -69C-316 -65 -318 -67 -322 -66"/><path d="M-143 -54C-141 -58 -136 -74 -138 -79C-141 -84 -153 -86 -157 -85C-160 -85 -160 -81 -159 -76C-158 -72 -154 -60 -152 -56C-149 -53 -146 -50 -143 -54"/><path d="M-282 -39C-286 -34 -299 -39 -304 -44C-310 -48 -320 -62 -316 -66C-312 -71 -285 -74 -280 -69C-274 -64 -278 -43 -282 -39"/><path d="M-292 56C-297 63 -305 51 -308 46C-310 42 -306 38 -307 31C-309 25 -322 12 -317 8C-312 4 -282 1 -278 9C-274 17 -287 50 -292 56"/><path d="M-217 122C-214 122 -204 120 -201 116C-198 113 -202 103 -199 102C-196 101 -186 110 -182 110C-178 110 -176 112 -174 101C-172 91 -167 61 -169 49C-172 37 -182 31 -187 28C-191 25 -191 26 -197 31C-202 37 -220 50 -221 61C-222 73 -203 93 -202 101C-201 110 -214 108 -217 111C-219 115 -219 121 -217 122"/><path d="M-421 147C-416 144 -399 140 -398 134C-397 128 -410 114 -415 110C-419 105 -421 101 -425 106C-428 110 -433 127 -434 134C-435 141 -432 145 -430 147C-428 149 -427 149 -421 147"/><path d="M-342 259C-332 251 -310 221 -304 209C-298 197 -302 194 -305 189C-308 185 -312 181 -322 182C-331 183 -352 196 -362 194C-372 192 -379 173 -385 169C-390 165 -392 166 -397 171C-402 175 -414 185 -416 194C-418 204 -412 220 -408 227C-405 234 -398 238 -395 237C-391 235 -390 222 -388 219C-386 216 -387 215 -382 218C-378 220 -364 228 -361 234C-358 241 -368 253 -365 257C-362 261 -352 267 -342 259"/><path d="M-91 457C-83 456 -82 453 -80 447C-78 442 -74 433 -79 425C-83 417 -98 401 -106 399C-114 397 -119 417 -127 414C-134 411 -151 389 -153 382C-156 375 -151 372 -144 372C-137 372 -119 384 -109 383C-99 382 -88 371 -82 367C-76 363 -74 365 -74 359C-74 354 -74 345 -82 337C-91 329 -114 318 -124 309C-133 301 -132 290 -138 284C-143 279 -151 277 -156 277C-161 277 -166 275 -167 284C-169 294 -165 320 -167 332C-168 344 -172 352 -175 357C-178 362 -182 366 -184 363C-186 361 -189 352 -188 344C-188 337 -180 328 -181 319C-183 311 -198 299 -198 292C-198 284 -182 281 -182 274C-182 267 -194 258 -196 249C-199 241 -195 229 -198 224C-200 220 -206 219 -214 223C-222 227 -232 246 -244 250C-257 255 -278 247 -288 252C-298 257 -305 270 -304 279C-302 288 -286 301 -277 305C-268 309 -257 307 -249 304C-242 300 -236 286 -232 283C-228 281 -225 285 -224 289C-223 294 -224 305 -227 311C-230 316 -238 316 -242 322C-246 328 -245 341 -249 346C-254 351 -263 351 -269 351C-275 351 -281 346 -284 346C-287 346 -290 344 -287 351C-284 358 -277 381 -265 390C-254 398 -234 400 -217 403C-200 405 -175 402 -164 406C-153 411 -158 419 -152 427C-145 435 -134 448 -124 453C-114 458 -98 458 -91 457"/><path d="M-60 375C-57 372 -51 361 -51 357C-51 353 -58 348 -61 349C-65 349 -73 355 -74 359C-75 364 -71 372 -69 375C-66 377 -63 377 -60 375"/><path d="M420 -44C427 -45 454 -56 461 -50C468 -43 454 -14 460 -5C467 4 496 0 498 4C500 8 477 11 472 18C468 25 476 40 470 47C464 54 439 52 436 60C433 67 452 84 449 91C446 98 427 96 419 102C411 108 401 117 401 129C401 141 425 166 419 174C413 183 373 174 367 179C360 185 378 204 380 209"/><path d="M416 -42C423 -42 450 -53 456 -47C463 -41 449 -12 456 -3C462 5 491 2 493 6C495 10 472 12 467 19C463 26 471 41 465 48C459 55 435 54 432 61C428 68 447 85 445 92C442 99 422 96 414 103C406 109 397 118 397 129C397 141 420 166 415 174C409 182 370 173 363 179C357 184 374 203 376 208"/><path d="M381 244C379 248 376 269 369 273C362 276 344 260 338 264C332 268 342 292 334 296C326 301 298 286 291 291C283 296 295 320 289 326C283 332 259 320 253 327C247 335 260 366 255 370C250 374 232 347 225 351C217 355 219 389 212 392C205 395 188 367 180 368C173 370 175 391 168 399C162 408 155 419 141 419C127 419 92 396 84 400C77 404 99 436 95 443C92 450 70 439 63 443C56 447 55 462 54 465"/><path d="M378 242C376 247 373 267 366 271C358 274 341 259 335 262C329 266 339 290 331 294C323 298 296 284 288 288C281 293 293 317 287 323C280 329 257 317 251 324C246 332 258 362 253 366C248 370 230 344 223 348C216 351 218 385 211 388C203 391 187 364 180 365C172 366 174 387 168 395C161 404 154 414 140 414C127 415 92 392 85 396C78 400 99 431 96 439C93 446 71 435 64 438C57 442 56 457 55 460"/><path d="M0 -50C4 -53 19 -62 25 -70C31 -78 37 -89 35 -95C33 -101 18 -103 15 -105"/><path d="M6 -47C10 -50 25 -60 31 -67C37 -74 43 -86 41 -92C39 -98 24 -100 21 -102"/><path d="M-165 25C-162 30 -152 52 -145 55C-138 58 -125 51 -120 45C-115 39 -116 24 -115 20"/><path d="M-159 28C-156 33 -146 55 -139 58C-131 61 -119 54 -114 48C-109 42 -110 27 -109 23"/><path d="M-85 95C-90 93 -105 82 -115 85C-125 88 -141 102 -145 115C-149 128 -146 153 -140 165C-134 177 -120 181 -110 185C-100 189 -85 189 -80 190"/><path d="M-79 98C-84 96 -99 85 -109 88C-119 91 -135 105 -139 118C-143 131 -140 156 -134 168C-128 180 -114 184 -104 188C-94 192 -79 192 -74 193"/><path d="M-105 260C-103 264 -96 277 -95 285C-94 293 -99 306 -100 310"/><path d="M-99 263C-97 267 -90 280 -89 288C-88 296 -93 309 -94 313"/></g></defs>
<use href="#tree" transform="translate(351.9,643.1) scale(0.14400,0.13920)" stroke="#231f20" stroke-width="9.5339"/>
<use href="#tree" transform="translate(442.6,578.7) scale(0.11960,0.11860)" stroke="#231f20" stroke-width="11.3350"/>
<use href="#tree" transform="translate(558.2,829.5) scale(0.20100,0.19500)" stroke="#231f20" stroke-width="6.8182"/>
<use href="#tree" transform="translate(615.7,1112.0) scale(0.13300,0.13700)" stroke="#231f20" stroke-width="10.0000"/>
<use href="#tree" transform="translate(735.2,1091.5) scale(0.12200,0.11600)" stroke="#231f20" stroke-width="11.3445"/>
<text x="471.2" y="317.6" font-size="22.0" textLength="191.4" lengthAdjust="spacingAndGlyphs">Paved ground space</text>
<text x="471.2" y="346.0" font-size="22.0" textLength="144.8" lengthAdjust="spacingAndGlyphs">(Multi purpose)</text>
<text x="494.3" y="678.5" font-size="17.0" textLength="43.2" lengthAdjust="spacingAndGlyphs">Open</text>
<text x="494.3" y="702.0" font-size="17.0" textLength="69.1" lengthAdjust="spacingAndGlyphs">Learning</text>
<text x="494.3" y="724.6" font-size="17.0" textLength="47.0" lengthAdjust="spacingAndGlyphs">Space</text>
<text x="667.7" y="572.8" font-size="17.0" textLength="75.8" lengthAdjust="spacingAndGlyphs">Sheltered</text>
<text x="667.7" y="595.8" font-size="17.0" textLength="69.8" lengthAdjust="spacingAndGlyphs">Learning</text>
<text x="667.7" y="618.9" font-size="17.0" textLength="47.0" lengthAdjust="spacingAndGlyphs">Space</text>
<text x="848.1" y="514.2" font-size="17.0" textLength="51.7" lengthAdjust="spacingAndGlyphs">Indoor</text>
<text x="848.1" y="537.0" font-size="17.0" textLength="68.2" lengthAdjust="spacingAndGlyphs">Learning</text>
<text x="848.1" y="560.0" font-size="17.0" textLength="47.0" lengthAdjust="spacingAndGlyphs">Space</text>
<text x="974.2" y="640.7" font-size="17.0" textLength="37.7" lengthAdjust="spacingAndGlyphs">Male</text>
<text x="973.5" y="663.0" font-size="17.0" textLength="50.6" lengthAdjust="spacingAndGlyphs">Toilets</text>
<text x="994.2" y="703.3" font-size="17.0" textLength="55.8" lengthAdjust="spacingAndGlyphs">Female</text>
<text x="994.2" y="726.1" font-size="17.0" textLength="49.6" lengthAdjust="spacingAndGlyphs">Toilets</text>
<text x="1018.4" y="785.2" font-size="17.0" textLength="58.7" lengthAdjust="spacingAndGlyphs">Kitchen</text>
<text x="959.0" y="900.3" font-size="17.0" textLength="70.0" lengthAdjust="spacingAndGlyphs">Research</text>
<text x="959.0" y="923.7" font-size="17.0" textLength="46.6" lengthAdjust="spacingAndGlyphs">Space</text>
<text x="1011.2" y="1022.5" font-size="17.0" textLength="79.0" lengthAdjust="spacingAndGlyphs">Vegetable</text>
<text x="1011.2" y="1045.0" font-size="17.0" textLength="57.3" lengthAdjust="spacingAndGlyphs">Garden</text>
</svg></body></html>
